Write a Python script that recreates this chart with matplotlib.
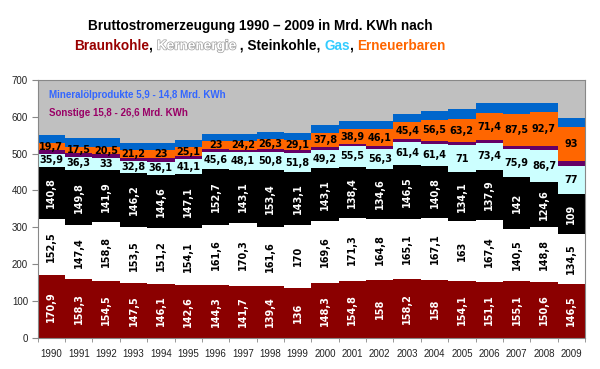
import matplotlib
matplotlib.use("Agg")
import matplotlib.pyplot as plt
import matplotlib.patheffects as pe
import numpy as np

years = [str(y) for y in range(1990, 2010)]
braunkohle = [170.9, 158.3, 154.5, 147.5, 146.1, 142.6, 144.3, 141.7, 139.4, 136,
              148.3, 154.8, 158, 158.2, 158, 154.1, 151.1, 155.1, 150.6, 146.5]
kernenergie = [152.5, 147.4, 158.8, 153.5, 151.2, 154.1, 161.6, 170.3, 161.6, 170,
               169.6, 171.3, 164.8, 165.1, 167.1, 163, 167.4, 140.5, 148.8, 134.5]
steinkohle = [140.8, 149.8, 141.9, 146.2, 144.6, 147.1, 152.7, 143.1, 153.4, 143.1,
              143.1, 138.4, 134.6, 146.5, 140.8, 134.1, 137.9, 142, 124.6, 109]
gas = [35.9, 36.3, 33, 32.8, 36.1, 41.1, 45.6, 48.1, 50.8, 51.8,
       49.2, 55.5, 56.3, 61.4, 61.4, 71, 73.4, 75.9, 86.7, 77]
sonstige = [9, 9, 10, 9, 9, 8, 8, 8, 8, 8, 7, 7, 7, 8, 8, 9, 8, 8, 9, 12]
erneuerbare = [19.7, 17.5, 20.5, 21.2, 23, 25.1, 23, 24.2, 26.3, 29.1,
               37.8, 38.9, 46.1, 45.4, 56.5, 63.2, 71.4, 87.5, 92.7, 93]
mineraloel = [22.9, 24.4, 24.0, 18.9, 19.1, 18.7, 19.2, 19, 20.4, 19.2,
              23.9, 22, 21.1, 24.3, 25.2, 26.2, 28.8, 29, 25.6, 25.2]

W, H = 600, 369
fig = plt.figure(figsize=(6, 3.69), dpi=100)
ax = fig.add_axes([37.7 / W, 1 - 337.7 / H, (585 - 37.7) / W, (337.7 - 80) / H])
ax.set_facecolor('#c0c0c0')

x = np.arange(len(years))
series = [
    (braunkohle, '#8b0000', 'white', True),
    (kernenergie, '#ffffff', 'black', True),
    (steinkohle, '#000000', 'white', True),
    (gas, '#ccffff', 'black', False),
    (sonstige, '#660066', None, False),
    (erneuerbare, '#ff6600', 'black', False),
    (mineraloel, '#0066cc', None, False),
]
bottom = np.zeros(len(years))
lab_font = dict(family='DejaVu Sans', fontweight='bold', fontsize=7)
for vals, col, tcol, rot in series:
    v = np.array(vals, dtype=float)
    ax.bar(x, v, width=1.0, bottom=bottom, color=col, linewidth=0, zorder=2)
    if tcol is not None:
        for xi, b, vi in zip(x, bottom, v):
            s = ('%g' % vi).replace('.', ',')
            ax.text(xi, b + vi / 2, s, ha='center', va='center', color=tcol,
                    rotation=90 if rot else 0, zorder=3, **lab_font)
    bottom = bottom + v

ax.set_xlim(-0.5, len(years) - 0.5)
ax.set_ylim(0, 700)
ax.set_yticks(range(0, 701, 100))
ax.set_xticks(x)
ax.set_xticklabels(years)
ax.set_xticks(np.arange(-0.5, len(years)), minor=True)
ax.tick_params(axis='x', which='major', length=0, pad=8, labelsize=7,
               labelcolor='#222222')
ax.tick_params(axis='x', which='minor', length=3, color='#888888')
ax.tick_params(axis='y', length=4, pad=3, labelsize=7, labelcolor='#222222',
               color='#888888')
for lab in ax.get_xticklabels() + ax.get_yticklabels():
    lab.set_family('Liberation Sans')
for sp in ax.spines.values():
    sp.set_color('#888888')
    sp.set_linewidth(0.8)

fig.text(49 / W, 1 - 94.5 / H, 'Mineralölprodukte 5,9 - 14,8 Mrd. KWh', color='#3366ff',
         family='Liberation Sans', fontweight='bold', fontsize=7.0, va='center')
fig.text(49 / W, 1 - 113.5 / H, 'Sonstige 15,8 - 26,6 Mrd. KWh', color='#990066',
         family='Liberation Sans', fontweight='bold', fontsize=7.0, va='center')

# Title
tfont = dict(family='Liberation Sans', fontweight='bold', fontsize=9.8)
cx = 260
fig.canvas.draw()
r = fig.canvas.get_renderer()

def width_px(s):
    t = fig.text(0, 0, s + '|', **tfont)
    t2 = fig.text(0, 0, '|', **tfont)
    w = t.get_window_extent(r).width - t2.get_window_extent(r).width
    t.remove(); t2.remove()
    return w

line1 = 'Bruttostromerzeugung 1990 \u2013 2009 in Mrd. KWh nach'
fig.text(cx / W, 1 - 30 / H, line1, ha='center', va='baseline', color='black', **tfont)

parts = [
    ('Braunkohle', '#990000', None),
    (', ', 'black', None),
    ('Kernenergie', 'white', [pe.withStroke(linewidth=1.0, foreground='#a0a0a0')]),
    (' , Steinkohle, ', 'black', None),
    ('Gas', '#33ccff', None),
    (', ', 'black', None),
    ('Erneuerbaren', '#ff6600', None),
]
full = ''.join(p[0] for p in parts)
total = width_px(full)
x0 = cx - total / 2
prefix = ''
for s, c, eff in parts:
    off = width_px(prefix) if prefix else 0
    t = fig.text((x0 + off) / W, 1 - 49.5 / H, s, ha='left', va='baseline', color=c, **tfont)
    if eff:
        t.set_path_effects(eff)
    prefix += s

fig.savefig('out.png', dpi=100)
